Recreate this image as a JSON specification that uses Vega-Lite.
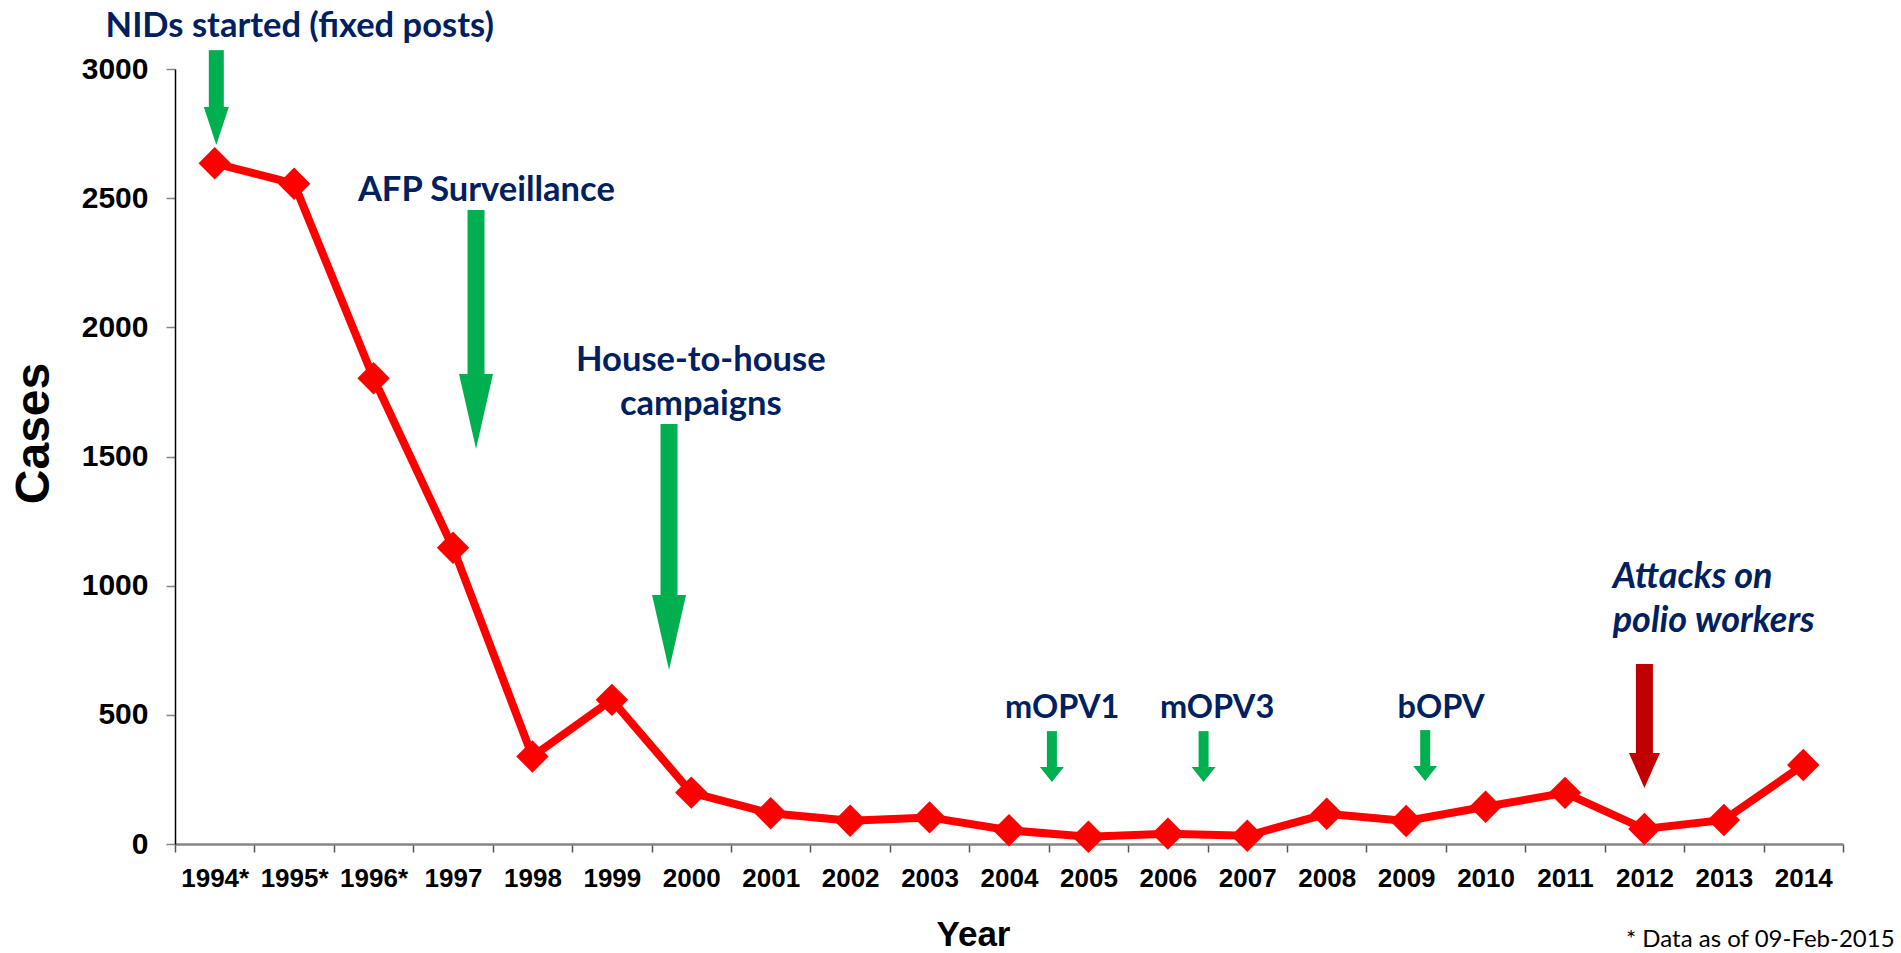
{
  "$schema": "https://vega.github.io/schema/vega-lite/v6.json",
  "autosize": "none",
  "width": 1668,
  "height": 775,
  "padding": {"left": 175, "top": 69, "right": 58, "bottom": 109},
  "background": "white",
  "config": {"view": {"stroke": null}},
  "datasets": {
    "polio": [
      {"year": 1994, "cases": 2635}, {"year": 1995, "cases": 2556}, {"year": 1996, "cases": 1803},
      {"year": 1997, "cases": 1147}, {"year": 1998, "cases": 339}, {"year": 1999, "cases": 558},
      {"year": 2000, "cases": 199}, {"year": 2001, "cases": 119}, {"year": 2002, "cases": 90},
      {"year": 2003, "cases": 103}, {"year": 2004, "cases": 53}, {"year": 2005, "cases": 28},
      {"year": 2006, "cases": 40}, {"year": 2007, "cases": 32}, {"year": 2008, "cases": 117},
      {"year": 2009, "cases": 89}, {"year": 2010, "cases": 144}, {"year": 2011, "cases": 198},
      {"year": 2012, "cases": 58}, {"year": 2013, "cases": 93}, {"year": 2014, "cases": 306}
    ],
    "shafts": [
      {"event": "NIDs", "kind": "nids", "year": 1994.02, "cases": 3073, "cases2": 2850},
      {"event": "AFP", "kind": "big", "year": 1997.29, "cases": 2454, "cases2": 1815},
      {"event": "House", "kind": "big", "year": 1999.72, "cases": 1626, "cases2": 952},
      {"event": "mOPV1", "kind": "small", "year": 2004.54, "cases": 437, "cases2": 296},
      {"event": "mOPV3", "kind": "small", "year": 2006.45, "cases": 437, "cases2": 296},
      {"event": "bOPV", "kind": "small", "year": 2009.24, "cases": 441, "cases2": 300},
      {"event": "Attacks", "kind": "red", "year": 2012.0, "cases": 697, "cases2": 350}
    ],
    "heads": [
      {"event": "NIDs", "kind": "nids", "year": 1994.02, "cases": 2706},
      {"event": "AFP", "kind": "big", "year": 1997.29, "cases": 1529},
      {"event": "House", "kind": "big", "year": 1999.72, "cases": 674},
      {"event": "mOPV1", "kind": "small", "year": 2004.54, "cases": 240},
      {"event": "mOPV3", "kind": "small", "year": 2006.45, "cases": 240},
      {"event": "bOPV", "kind": "small", "year": 2009.24, "cases": 244},
      {"event": "Attacks", "kind": "red", "year": 2012.0, "cases": 217}
    ],
    "notes": [
      {"kind": "large", "year": 1995.07, "cases": 3124, "text": "NIDs started (fixed posts)"},
      {"kind": "large", "year": 1997.42, "cases": 2489, "text": "AFP Surveillance"},
      {"kind": "large", "year": 2000.12, "cases": 1831, "text": "House-to-house"},
      {"kind": "large", "year": 2000.12, "cases": 1660, "text": "campaigns"},
      {"kind": "medium", "year": 2004.67, "cases": 488, "text": "mOPV1"},
      {"kind": "medium", "year": 2006.62, "cases": 488, "text": "mOPV3"},
      {"kind": "medium", "year": 2009.44, "cases": 488, "text": "bOPV"},
      {"kind": "italic", "year": 2011.6, "cases": 990, "text": "Attacks on"},
      {"kind": "italic", "year": 2011.6, "cases": 820, "text": "polio workers"},
      {"kind": "foot", "year": 2015.15, "cases": -398, "text": "* Data as of 09-Feb-2015"}
    ]
  },
  "encoding": {
    "x": {
      "field": "year", "type": "quantitative",
      "scale": {"domain": [1993.5, 2014.5], "nice": false, "zero": false},
      "axis": {
        "values": [1993.5, 1994.5, 1995.5, 1996.5, 1997.5, 1998.5, 1999.5, 2000.5, 2001.5, 2002.5, 2003.5, 2004.5, 2005.5, 2006.5, 2007.5, 2008.5, 2009.5, 2010.5, 2011.5, 2012.5, 2013.5, 2014.5],
        "labelExpr": "datum.value > 2014 ? '' : (datum.value < 1996 ? (datum.value + 0.5) + '*' : '' + (datum.value + 0.5))",
        "labelOffset": 39.72,
        "labelFont": "Liberation Sans", "labelFontWeight": "bold", "labelFontSize": 26, "labelColor": "black",
        "labelPadding": 13, "labelOverlap": false, "labelFlush": false, "labelBound": false,
        "tickSize": 8, "tickColor": "#555555", "tickWidth": 1.5,
        "domainColor": "#868686", "domainWidth": 2.5, "grid": false,
        "title": "Year", "titleFont": "Liberation Sans", "titleFontSize": 35, "titleFontWeight": "bold", "titleColor": "black",
        "titleX": 798, "titleY": 101, "titleBaseline": "alphabetic", "titleAlign": "center"
      }
    },
    "y": {
      "field": "cases", "type": "quantitative",
      "scale": {"domain": [0, 3000], "nice": false},
      "axis": {
        "values": [0, 500, 1000, 1500, 2000, 2500, 3000],
        "format": "d",
        "labelFont": "Liberation Sans", "labelFontWeight": "bold", "labelFontSize": 30, "labelColor": "black",
        "labelPadding": 18, "tickSize": 9, "tickColor": "#868686", "tickWidth": 1.5,
        "domainColor": "black", "domainWidth": 1.5, "grid": false,
        "title": "Cases", "titleFont": "Liberation Sans", "titleFontSize": 48, "titleFontWeight": "bold", "titleColor": "black",
        "titleX": -141, "titleY": 364, "titleAngle": 270, "titleBaseline": "middle", "titleAlign": "center"
      }
    }
  },
  "layer": [
    {"data": {"name": "shafts"}, "transform": [{"filter": "datum.kind == 'nids'"}],
     "mark": {"type": "rule", "color": "#00B050", "strokeWidth": 15}, "encoding": {"y2": {"field": "cases2"}}},
    {"data": {"name": "shafts"}, "transform": [{"filter": "datum.kind == 'big'"}],
     "mark": {"type": "rule", "color": "#00B050", "strokeWidth": 17}, "encoding": {"y2": {"field": "cases2"}}},
    {"data": {"name": "shafts"}, "transform": [{"filter": "datum.kind == 'small'"}],
     "mark": {"type": "rule", "color": "#00B050", "strokeWidth": 10}, "encoding": {"y2": {"field": "cases2"}}},
    {"data": {"name": "shafts"}, "transform": [{"filter": "datum.kind == 'red'"}],
     "mark": {"type": "rule", "color": "#C00000", "strokeWidth": 17}, "encoding": {"y2": {"field": "cases2"}}},
    {"data": {"name": "heads"}, "transform": [{"filter": "datum.kind == 'nids'"}],
     "mark": {"type": "point", "filled": true, "opacity": 1, "color": "#00B050", "strokeWidth": 0, "shape": "M-0.658,-2L0.658,-2L0,0Z", "size": 1444}},
    {"data": {"name": "heads"}, "transform": [{"filter": "datum.kind == 'big'"}],
     "mark": {"type": "point", "filled": true, "opacity": 1, "color": "#00B050", "strokeWidth": 0, "shape": "M-0.453,-2L0.453,-2L0,0Z", "size": 5625}},
    {"data": {"name": "heads"}, "transform": [{"filter": "datum.kind == 'small'"}],
     "mark": {"type": "point", "filled": true, "opacity": 1, "color": "#00B050", "strokeWidth": 0, "shape": "M-1.6,-2L1.6,-2L0,0Z", "size": 225}},
    {"data": {"name": "heads"}, "transform": [{"filter": "datum.kind == 'red'"}],
     "mark": {"type": "point", "filled": true, "opacity": 1, "color": "#C00000", "strokeWidth": 0, "shape": "M-0.886,-2L0.886,-2L0,0Z", "size": 1225}},
    {"data": {"name": "polio"}, "mark": {"type": "line", "color": "#FF0000", "strokeWidth": 8}},
    {"data": {"name": "polio"}, "mark": {"type": "point", "shape": "diamond", "filled": true, "opacity": 1, "color": "#FF0000", "size": 1050}},
    {"data": {"name": "notes"}, "transform": [{"filter": "datum.kind == 'large'"}],
     "mark": {"type": "text", "font": "Lato", "fontWeight": "bold", "fontSize": 34.5, "color": "#002060", "align": "center", "baseline": "alphabetic"},
     "encoding": {"text": {"field": "text"}}},
    {"data": {"name": "notes"}, "transform": [{"filter": "datum.kind == 'medium'"}],
     "mark": {"type": "text", "font": "Lato", "fontWeight": "bold", "fontSize": 32.5, "color": "#002060", "align": "center", "baseline": "alphabetic"},
     "encoding": {"text": {"field": "text"}}},
    {"data": {"name": "notes"}, "transform": [{"filter": "datum.kind == 'italic'"}],
     "mark": {"type": "text", "font": "Lato", "fontWeight": "bold", "fontStyle": "italic", "fontSize": 36, "color": "#002060", "align": "left", "baseline": "alphabetic"},
     "encoding": {"text": {"field": "text"}}},
    {"data": {"name": "notes"}, "transform": [{"filter": "datum.kind == 'foot'"}],
     "mark": {"type": "text", "font": "Lato", "fontSize": 24, "color": "black", "align": "right", "baseline": "alphabetic"},
     "encoding": {"text": {"field": "text"}}}
  ]
}
